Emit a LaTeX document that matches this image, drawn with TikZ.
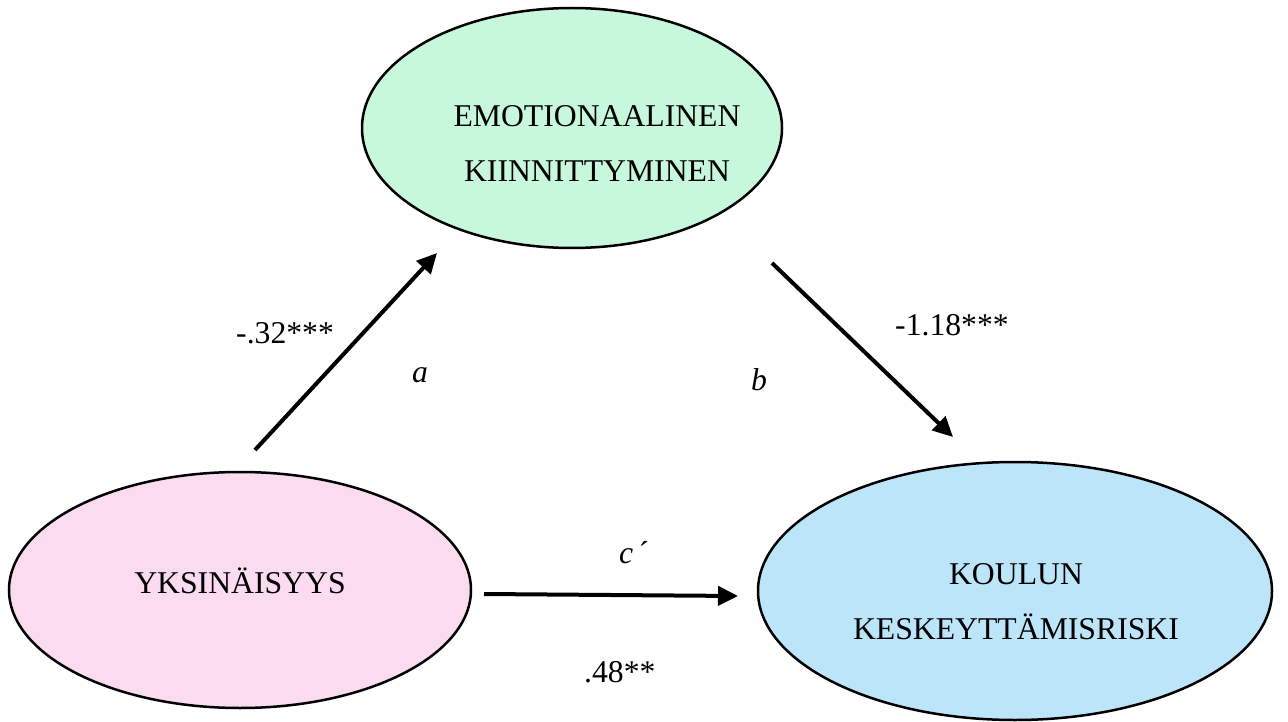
\documentclass[tikz,border=0pt]{standalone}
\usepackage{fontspec}
\setmainfont{Liberation Serif}
\usetikzlibrary{arrows.meta,shapes.geometric}
\definecolor{emogreen}{RGB}{199,248,220}
\definecolor{lonepink}{RGB}{251,219,239}
\definecolor{riskblue}{RGB}{189,229,250}
\begin{document}
\begin{tikzpicture}[x=1pt,y=-1pt,
  oval/.style={draw=black,line width=2.5pt,shape=ellipse,inner sep=0pt},
  txt/.style={font=\fontsize{31.7}{55}\selectfont,anchor=base,inner sep=0pt},
  lab/.style={font=\fontsize{31.7}{40}\selectfont,anchor=base west,inner sep=0pt},
  conn/.style={line width=4pt,-{Triangle[length=20pt,width=19pt]}}]
\useasboundingbox (0,0) rectangle (1288,722);
% ellipses
\node[oval,fill=emogreen,minimum width=420pt,minimum height=240pt] (emo) at (572,128) {};
\node[oval,fill=lonepink,minimum width=462pt,minimum height=236pt] (yks) at (240,590) {};
\node[oval,fill=riskblue,minimum width=514pt,minimum height=258pt] (kou) at (1015,591) {};
% texts
\node[txt] (emo1) at (597,127) {EMOTIONAALINEN};
\node[txt] (emo2) at (597,182) {KIINNITTYMINEN};
\node[txt] (yks1) at (240,593) {YKSINÄISYYS};
\node[txt] (kou1) at (1016,584) {KOULUN};
\node[txt] (kou2) at (1016,639) {KESKEYTTÄMISRISKI};
% connector endpoints
\coordinate (a1) at (255,450);
\coordinate (a2) at (437,253);
\coordinate (b1) at (772,263);
\coordinate (b2) at (953,437);
\coordinate (c1) at (484,594);
\coordinate (c2) at (738,596);
\draw[conn] (a1) -- (a2);
\draw[conn] (b1) -- (b2);
\draw[conn] (c1) -- (c2);
% labels
\node[lab] (la) at (236,343) {-.32***};
\node[lab] (lai) at (412,382) {\itshape a};
\node[lab] (lb) at (895,335) {-1.18***};
\node[lab] (lbi) at (751,390) {\itshape b};
\node[lab] (lc) at (619,563) {\itshape c\,\upshape ´};
\node[lab] (ld) at (584,682) {.48**};
\end{tikzpicture}
\end{document}
